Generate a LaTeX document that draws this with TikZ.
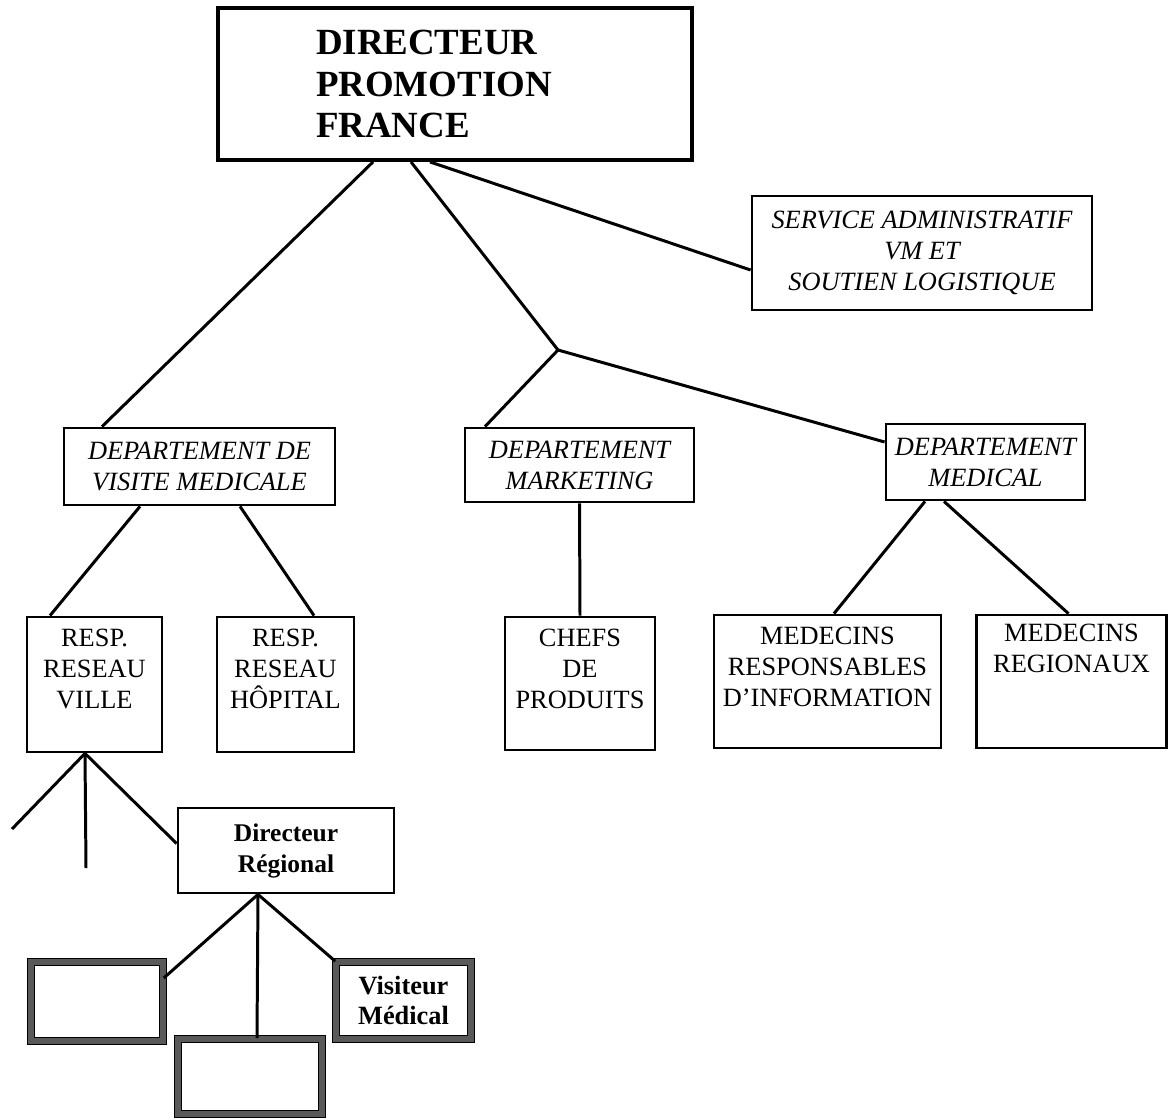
\documentclass[tikz,border=0pt]{standalone}
\usepackage{fontspec}
\setmainfont{Liberation Serif}
\usetikzlibrary{positioning}

\begin{document}
\begin{tikzpicture}[
    boite/.style={draw, line width=1.6pt, inner sep=0pt, align=center,
        font=\fontsize{15}{17.6}\selectfont},
    boiteit/.style={boite, font=\fontsize{15}{17.6}\selectfont\itshape},
    boitedouble/.style={draw=black, line width=0.9pt, double=black!65,
        double distance=3.2pt, inner sep=0pt, align=center,
        font=\fontsize{15}{17.6}\selectfont\bfseries},
    texte/.style={align=center, inner sep=0pt, font=\fontsize{15}{17.6}\selectfont},
    trait/.style={line width=1.7pt}
]

    \useasboundingbox (0,0) rectangle (23.38,-22.4);

    % Step 1: Directeur and service
    \node[boite, line width=2.2pt, minimum width=9.48cm, minimum height=3.04cm,
        text width=5.56cm, inner xsep=1.96cm, align=left,
        font=\fontsize{21}{23.8}\selectfont\bfseries] (directeur) at (9.1,-1.68)
        {DIRECTEUR\\PROMOTION\\FRANCE};
    \node[boiteit, minimum width=6.8cm, minimum height=2.28cm] (service) at (18.44,-5.06)
        {SERVICE ADMINISTRATIF\\VM ET\\SOUTIEN LOGISTIQUE};
    \coordinate (jonction) at (11.16,-7.0);

    % Step 2: Departements
    \node[boiteit, minimum width=5.42cm, minimum height=1.54cm] (dvm) at (3.99,-9.33)
        {DEPARTEMENT DE\\VISITE MEDICALE};
    \node[boiteit, minimum width=4.58cm, minimum height=1.48cm] (dmkt) at (11.59,-9.3)
        {DEPARTEMENT\\MARKETING};
    \node[boiteit, minimum width=3.98cm, minimum height=1.52cm] (dmed) at (19.71,-9.24)
        {DEPARTEMENT\\MEDICAL};

    % Step 3: Responsables (text at the top of each box)
    \node[boite, minimum width=2.7cm, minimum height=2.7cm] (ville) at (1.89,-13.69) {};
    \node[boite, minimum width=2.74cm, minimum height=2.7cm] (hopital) at (5.71,-13.69) {};
    \node[boite, minimum width=3.0cm, minimum height=2.66cm] (chefs) at (11.6,-13.67) {};
    \node[boite, minimum width=4.54cm, minimum height=2.66cm] (medresp) at (16.55,-13.63) {};
    \node[boite, minimum width=3.8cm, minimum height=2.66cm] (medreg) at (21.43,-13.63) {};

    \node[texte, below=0.26cm of ville.north] (villetxt) {RESP.\\RESEAU\\VILLE};
    \node[texte, below=0.26cm of hopital.north] (hopitaltxt) {RESP.\\RESEAU\\HÔPITAL};
    \node[texte, below=0.26cm of chefs.north] (chefstxt) {CHEFS\\DE\\PRODUITS};
    \node[texte, below=0.26cm of medresp.north] (medresptxt) {MEDECINS\\RESPONSABLES\\D’INFORMATION};
    \node[texte, below=0.2cm of medreg.north] (medregtxt) {MEDECINS\\REGIONAUX};

    % Step 4: Directeur regional and visiteurs
    \node[boite, font=\fontsize{14.5}{17.6}\selectfont\bfseries,
        minimum width=4.32cm, minimum height=1.7cm] (dirreg) at (5.72,-17.01)
        {Directeur\\Régional};
    \node[boitedouble, minimum width=2.64cm, minimum height=1.58cm] (vide1) at (1.94,-20.03) {};
    \node[boitedouble, minimum width=2.88cm, minimum height=1.5cm] (vide2) at (5.0,-21.53) {};
    \node[boitedouble, minimum width=2.7cm, minimum height=1.54cm] (visiteur) at (8.07,-20.01)
        {Visiteur\\Médical};

    \coordinate (villeg) at (0.24,-16.58);
    \coordinate (villeb) at (1.72,-17.36);

    % Connectors
    \draw[trait] ([xshift=-1.64cm]directeur.south) -- ([xshift=-1.95cm]dvm.north);
    \draw[trait] ([xshift=-0.88cm]directeur.south) -- (jonction);
    \draw[trait] ([xshift=-0.5cm]directeur.south) -- ([yshift=-0.34cm]service.west);
    \draw[trait] (jonction) -- ([xshift=-1.89cm]dmkt.north);
    \draw[trait] (jonction) -- ([yshift=0.4cm]dmed.west);

    \draw[trait] ([xshift=-1.19cm]dvm.south) -- ([xshift=-0.89cm]ville.north);
    \draw[trait] ([xshift=0.81cm]dvm.south) -- ([xshift=0.57cm]hopital.north);
    \draw[trait] (dmkt.south) -- (chefs.north);
    \draw[trait] ([xshift=-1.21cm]dmed.south) -- ([xshift=0.13cm]medresp.north);
    \draw[trait] ([xshift=-0.83cm]dmed.south) -- ([xshift=-0.06cm]medreg.north);

    \draw[trait] ([xshift=-0.19cm]ville.south) -- (villeg);
    \draw[trait] ([xshift=-0.19cm]ville.south) -- (villeb);
    \draw[trait] ([xshift=-0.19cm]ville.south) -- ([yshift=0.14cm]dirreg.west);

    \draw[trait] ([xshift=-0.56cm]dirreg.south) -- ([yshift=0.47cm]vide1.east);
    \draw[trait] ([xshift=-0.56cm]dirreg.south) -- ([xshift=0.14cm]vide2.north);
    \draw[trait] ([xshift=-0.56cm]dirreg.south) -- (visiteur.north west);

\end{tikzpicture}
\end{document}
